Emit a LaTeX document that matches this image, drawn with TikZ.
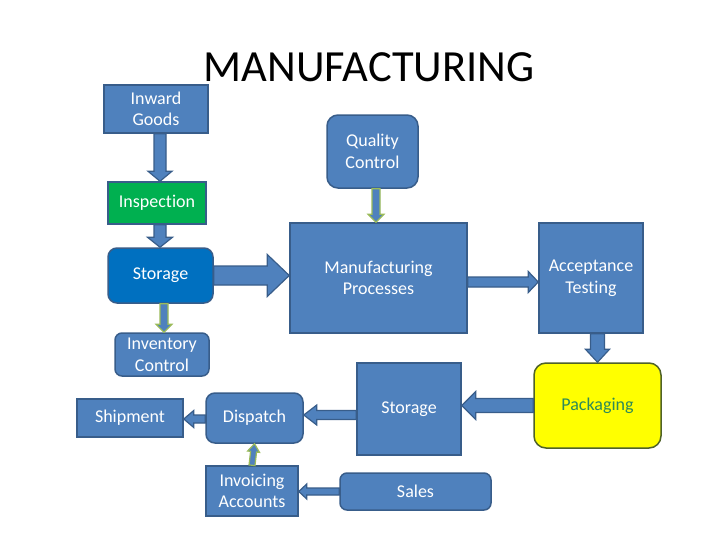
\documentclass[tikz,border=0pt]{standalone}
\usepackage{fontspec}
\setmainfont{Carlito}[Ligatures=NoCommon]
\usepackage{tikz}
\usetikzlibrary{calc, positioning}
\definecolor{OfficeBlue}{HTML}{4F81BD}
\definecolor{OfficeDark}{HTML}{385D8A}
\definecolor{OfficeGreen}{HTML}{00B050}
\definecolor{OfficeDeep}{HTML}{0070C0}
\definecolor{OfficeLime}{HTML}{9BBB59}
\definecolor{OfficeYellow}{HTML}{FFFF00}
\definecolor{OfficeOlive}{HTML}{4F6228}
\definecolor{PackText}{HTML}{2E8A58}
\tikzset{
    % Box styles
    stepbox/.style={
        rectangle,
        draw=OfficeDark,
        fill=OfficeBlue,
        line width=1.5pt,
        inner sep=0pt,
        align=center,
        text=white,
        font=\fontsize{18}{21.6}\selectfont
    },
    roundbox/.style={
        stepbox,
        rounded corners=9pt
    },
    % Arrow styles
    blockarr/.style={
        fill=OfficeBlue,
        draw=OfficeDark,
        line width=1.2pt,
        line join=miter
    },
    greenarr/.style={
        blockarr,
        draw=OfficeLime
    }
}
% block arrow: [style] from, to, half shaft, half head, head length
\newcommand{\blockarrow}[6][]{%
    \coordinate (bah) at ($(#3)!#6!(#2)$);
    \draw[blockarr,#1] ($(#2)!#4!90:(#3)$) -- ($(bah)!#4!90:(#3)$)
        -- ($(bah)!#5!90:(#3)$) -- (#3) -- ($(bah)!#5!-90:(#3)$)
        -- ($(bah)!#4!-90:(#3)$) -- ($(#2)!#4!-90:(#3)$) -- cycle;
}

\begin{document}
\begin{tikzpicture}[x=1pt, y=-1pt]
    \useasboundingbox[fill=white] (0,0) rectangle (728,546);

    % Title
    \node[font=\fontsize{44.5}{50}\selectfont] (title) at (369,67) {MANUFACTURING};

    % Left column
    \node[stepbox, minimum width=104pt, minimum height=48pt] (inward) at (156,109) {Inward\\Goods};
    \node[stepbox, fill=OfficeGreen, minimum width=98pt, minimum height=42pt] (inspect) at (157,203) {Inspection};
    \node[roundbox, fill=OfficeDeep, minimum width=105pt, minimum height=55pt] (storeA) at (160.5,275.5) {Storage};
    \node[roundbox, rounded corners=7pt, minimum width=94pt, minimum height=43pt] (inventory) at (162,354.5) {Inventory\\Control};

    % Middle row
    \node[roundbox, rounded corners=11pt, minimum width=91pt, minimum height=73pt] (quality) at (372.5,151.5) {Quality\\Control};
    \node[stepbox, minimum width=177pt, minimum height=110pt] (manuf) at (378.5,278) {Manufacturing\\Processes};
    \node[stepbox, minimum width=104pt, minimum height=110pt] (accept) at (591,278) {Acceptance\\Testing};

    % Bottom rows
    \node[roundbox, rounded corners=12pt, fill=OfficeYellow, draw=OfficeOlive, text=PackText, minimum width=127pt, minimum height=85pt] (pack) at (597.5,405.5) {Packaging};
    \node[stepbox, minimum width=104pt, minimum height=92pt] (storeB) at (409,409) {Storage};
    \node[roundbox, minimum width=97pt, minimum height=50pt] (dispatch) at (254.5,418) {Dispatch};
    \node[stepbox, minimum width=106pt, minimum height=38pt] (shipment) at (130,418) {Shipment};
    \node[stepbox, minimum width=92pt, minimum height=50pt] (invoice) at (252,491) {Invoicing\\Accounts};
    \node[roundbox, rounded corners=7pt, minimum width=151pt, minimum height=37pt] (sales) at (415.5,491.5) {Sales};

    % Arrow end points
    \coordinate (c1) at ([xshift=4pt]inward.south);
    \coordinate (c2) at (c1 |- inspect.north);
    \coordinate (c3) at (c1 |- inspect.south);
    \coordinate (c4) at (c1 |- storeA.north);
    \coordinate (c5) at (manuf.west |- storeA.east);
    \coordinate (c6) at ([xshift=3.5pt]storeA.south);
    \coordinate (c7) at (c6 |- inventory.north);
    \coordinate (c8) at ([xshift=3.5pt]quality.south);
    \coordinate (c9) at (c8 |- manuf.north);
    \coordinate (c10) at ([yshift=-4pt]manuf.east);
    \coordinate (c11) at (accept.west |- c10);
    \coordinate (c12) at (pack.north |- accept.south);
    \coordinate (c13) at (storeB.east |- pack.west);
    \coordinate (c14) at ([yshift=-6pt]storeB.west);
    \coordinate (c15) at (dispatch.east |- c14);
    \coordinate (c16) at ([yshift=-1pt]dispatch.west);
    \coordinate (c17) at (shipment.east |- c16);
    \coordinate (c18) at (invoice.east |- sales.west);

    % Block arrows
    \blockarrow{c1}{c2}{6pt}{12pt}{10pt}
    \blockarrow{c3}{c4}{6pt}{12.5pt}{10pt}
    \blockarrow{storeA.east}{c5}{9.5pt}{21pt}{22pt}
    \blockarrow[greenarr]{c6}{c7}{4pt}{8pt}{8pt}
    \blockarrow[greenarr]{c8}{c9}{4pt}{8pt}{8pt}
    \blockarrow{c10}{c11}{5pt}{10.5pt}{10pt}
    \blockarrow{c12}{pack.north}{7pt}{12pt}{13pt}
    \blockarrow{pack.west}{c13}{7pt}{14pt}{14pt}
    \blockarrow{c14}{c15}{4.5pt}{10pt}{13pt}
    \blockarrow{c16}{c17}{4pt}{8.5pt}{10pt}
    \blockarrow[greenarr]{invoice.north}{dispatch.south}{3pt}{6pt}{8pt}
    \blockarrow{sales.west}{c18}{3.5pt}{7.5pt}{8pt}
\end{tikzpicture}
\end{document}
